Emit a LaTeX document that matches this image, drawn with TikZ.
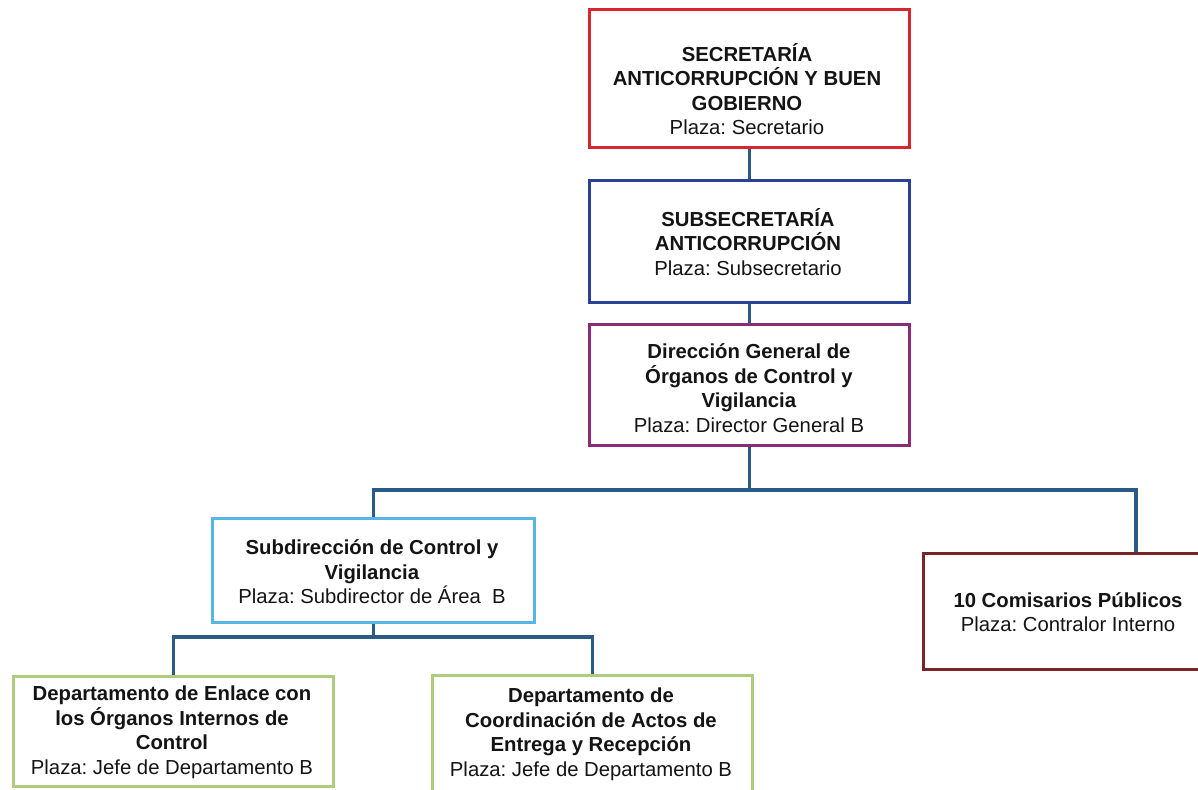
\documentclass[tikz,border=0pt]{standalone}
\usepackage{fontspec}
\setmainfont{Liberation Sans}
\frenchspacing
\definecolor{cred}{HTML}{D8262E}
\definecolor{cblue}{HTML}{2B4196}
\definecolor{cpurple}{HTML}{8A2B78}
\definecolor{clight}{HTML}{56B6E6}
\definecolor{cgreen}{HTML}{AFCB7E}
\definecolor{cbrown}{HTML}{7A2629}
\definecolor{cconn}{HTML}{2A5A85}
\begin{document}
\begin{tikzpicture}[x=1pt,y=-1pt,
  box/.style={draw=#1,line width=2.6pt,fill=white,inner sep=0pt,anchor=north west},
  txt/.style={align=center,inner sep=0pt,font=\fontsize{20.3}{24.5}\selectfont,text=black!92},
  conn/.style={draw=cconn,line width=3.2pt}]
\useasboundingbox (0,0) rectangle (1198,789);
\clip (0,0) rectangle (1198,789);
% boxes
\node[box=cred,minimum width=320pt,minimum height=138pt] (sec) at (588,8) {};
\node[box=cblue,minimum width=320pt,minimum height=122pt] (sub) at (588,179) {};
\node[box=cpurple,minimum width=320pt,minimum height=121pt] (dir) at (588,323) {};
\node[box=clight,minimum width=322pt,minimum height=104pt] (subd) at (211,517) {};
\node[box=cbrown,minimum width=300pt,minimum height=116pt] (com) at (922,552) {};
\node[box=cgreen,minimum width=320pt,minimum height=110pt] (enl) at (12,675) {};
\node[box=cgreen,minimum width=320pt,minimum height=140pt] (coo) at (431,674) {};
% connector points
\coordinate (bus) at (dir.south |- 0,490);
\coordinate (bus2) at (subd.south |- 0,637);
\coordinate (comtop) at (1136,552);
\draw[conn] (sec.south) -- (sub.north);
\draw[conn] (sub.south) -- (dir.north);
\draw[conn] (dir.south) -- (bus);
\draw[conn] (subd.north) |- (bus) -| (comtop);
\draw[conn] (subd.south) -- (bus2);
\draw[conn] (enl.north) |- (bus2) -| (coo.north);
% texts
\node[txt] (tsec) at (747,89) {\textbf{SECRETARÍA}\\\textbf{ANTICORRUPCIÓN Y BUEN}\\\textbf{GOBIERNO}\\Plaza: Secretario};
\node[txt] (tsub) at (748,242) {\textbf{SUBSECRETARÍA}\\\textbf{ANTICORRUPCIÓN}\\Plaza: Subsecretario};
\node[txt] (tdir) at (749,388) {\textbf{Dirección General de}\\\textbf{Órganos de Control y}\\\textbf{Vigilancia}\\Plaza: Director General B};
\node[txt] (tsubd) at (372,572) {\textbf{Subdirección de Control y}\\\textbf{Vigilancia}\\Plaza: Subdirector de Área\ \ B};
\node[txt] (tcom) at (1068,612) {\textbf{10 Comisarios Públicos}\\Plaza: Contralor Interno};
\node[txt] (tenl) at (172,732) {\textbf{Departamento de Enlace con}\\\textbf{los Órganos Internos de}\\\textbf{Control}\\Plaza: Jefe de Departamento B};
\node[txt] (tcoo) at (591,734) {\textbf{Departamento de}\\\textbf{Coordinación de Actos de}\\\textbf{Entrega y Recepción}\\Plaza: Jefe de Departamento B};
\end{tikzpicture}
\end{document}
